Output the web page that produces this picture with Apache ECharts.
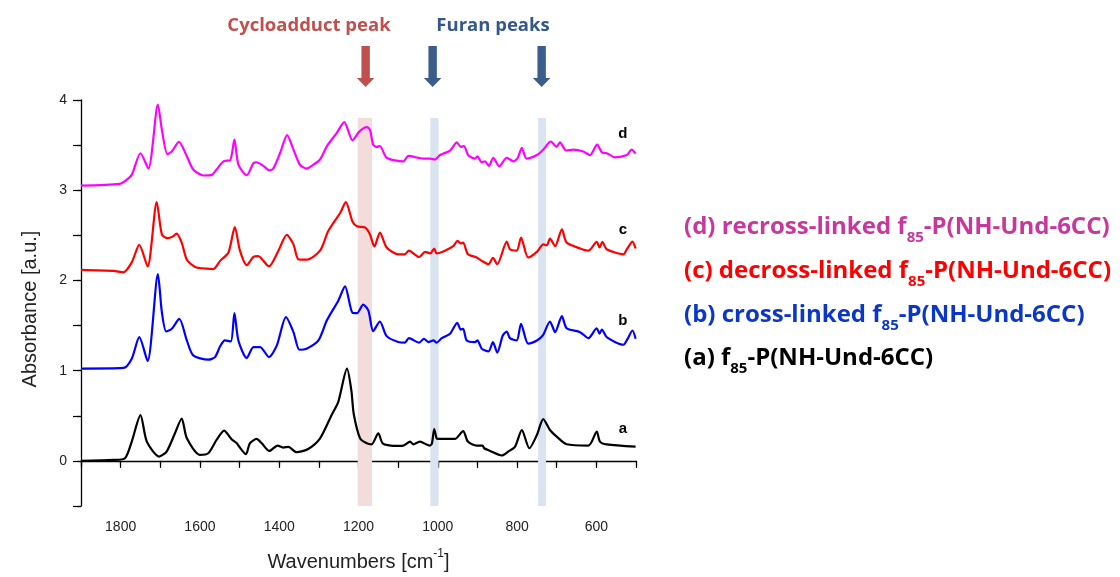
<!DOCTYPE html>
<html>
<head>
<meta charset="utf-8">
<title>FTIR spectra f85-P(NH-Und-6CC)</title>
<script src="https://cdn.jsdelivr.net/npm/echarts@6/dist/echarts.min.js"></script>
<style>
  html, body { margin: 0; padding: 0; background: #ffffff; }
  #chart { width: 1120px; height: 577px; }
</style>
</head>
<body>
<div id="chart"></div>
<script>
// Wavenumber ticks shown on the x axis
const xTickLabels = [1800, 1600, 1400, 1200, 1000, 800, 600];
const yTickLabels = [0, 1, 2, 3, 4];

// (d) recross-linked
const waveD = [1900,1802,1789,1772,1750,1730,1706,1696,1682,1671,1653,1633,1617,1591,1570,1558,1539,1524,1513,1503,1482,1465,1457,1440,1425,1415,1398,1380,1364,1348,1331,1318,1297,1280,1255,1236,1215,1198,1179,1171,1163,1154,1146,1129,1087,1074,1036,1019,1007,994,969,952,942,934,923,906,900,889,881,871,860,845,826,809,798,788,776,750,734,715,700,692,676,658,633,616,598,586,574,553,523,511,501];
const absD  = [3.05,3.07,3.10,3.17,3.41,3.24,3.95,3.67,3.40,3.43,3.535,3.376,3.23,3.163,3.17,3.23,3.325,3.33,3.56,3.284,3.166,3.30,3.31,3.27,3.22,3.24,3.41,3.61,3.45,3.284,3.24,3.27,3.34,3.486,3.634,3.755,3.552,3.65,3.70,3.67,3.505,3.48,3.49,3.36,3.32,3.38,3.35,3.35,3.34,3.39,3.44,3.53,3.48,3.49,3.387,3.35,3.376,3.31,3.32,3.27,3.36,3.265,3.36,3.32,3.36,3.47,3.35,3.39,3.45,3.54,3.48,3.53,3.44,3.45,3.43,3.39,3.505,3.42,3.41,3.365,3.39,3.45,3.405];

// (c) decross-linked
const waveC = [1900,1818,1793,1772,1753,1732,1709,1696,1682,1667,1659,1646,1633,1612,1583,1566,1549,1528,1512,1499,1482,1465,1453,1426,1402,1381,1364,1352,1331,1297,1276,1246,1232,1215,1204,1183,1171,1160,1146,1129,1100,1083,1073,1047,1032,1019,1009,1003,982,961,950,942,936,924,902,889,872,861,850,826,818,801,790,772,750,734,725,717,704,687,675,641,620,599,592,585,574,532,523,509,501];
const absC  = [2.118,2.107,2.09,2.20,2.394,2.155,2.868,2.51,2.468,2.49,2.52,2.42,2.23,2.15,2.13,2.126,2.217,2.31,2.59,2.33,2.17,2.26,2.27,2.155,2.33,2.505,2.40,2.236,2.23,2.33,2.55,2.75,2.868,2.65,2.60,2.585,2.51,2.376,2.53,2.365,2.29,2.29,2.33,2.26,2.317,2.30,2.354,2.30,2.33,2.38,2.44,2.41,2.42,2.29,2.255,2.217,2.18,2.25,2.18,2.43,2.346,2.33,2.475,2.255,2.317,2.40,2.39,2.464,2.38,2.567,2.42,2.354,2.33,2.427,2.365,2.427,2.346,2.29,2.346,2.43,2.354];

// (b) cross-linked
const waveB = [1900,1793,1772,1753,1732,1706,1696,1685,1671,1652,1633,1617,1579,1562,1549,1537,1522,1513,1503,1482,1465,1448,1426,1406,1383,1364,1349,1331,1301,1280,1251,1234,1215,1204,1188,1175,1163,1146,1129,1100,1083,1073,1047,1035,1024,1011,1003,990,969,951,942,936,927,906,900,889,872,861,850,836,826,818,801,790,772,750,735,717,704,687,675,641,620,599,592,586,574,532,522,509,501];
const absB  = [1.023,1.03,1.133,1.372,1.107,2.07,1.648,1.434,1.464,1.574,1.335,1.17,1.122,1.15,1.27,1.335,1.324,1.637,1.335,1.14,1.262,1.262,1.15,1.28,1.593,1.427,1.232,1.243,1.335,1.555,1.776,1.935,1.64,1.637,1.732,1.666,1.438,1.545,1.383,1.317,1.31,1.36,1.31,1.354,1.317,1.335,1.31,1.36,1.41,1.53,1.456,1.464,1.335,1.317,1.335,1.243,1.213,1.317,1.20,1.39,1.434,1.36,1.335,1.52,1.30,1.335,1.39,1.545,1.427,1.604,1.47,1.427,1.36,1.47,1.41,1.456,1.372,1.287,1.346,1.445,1.354];

// (a) f85-P(NH-Und-6CC)
const waveA = [1900,1818,1789,1772,1750,1734,1703,1684,1663,1646,1633,1600,1579,1558,1539,1520,1507,1503,1484,1474,1457,1444,1425,1404,1390,1377,1356,1327,1297,1268,1251,1229,1218,1212,1196,1179,1167,1150,1139,1112,1087,1070,1062,1045,1021,1015,1009,1003,999,957,936,924,902,887,883,868,839,822,805,788,769,750,734,717,700,675,620,599,591,574,501];
const absA  = [0.0,0.011,0.03,0.214,0.507,0.214,0.048,0.104,0.306,0.47,0.25,0.066,0.085,0.232,0.335,0.24,0.195,0.17,0.074,0.195,0.243,0.195,0.11,0.17,0.148,0.155,0.096,0.132,0.25,0.507,0.655,1.023,0.78,0.52,0.25,0.195,0.184,0.306,0.195,0.166,0.17,0.214,0.184,0.214,0.17,0.19,0.353,0.25,0.243,0.243,0.331,0.214,0.17,0.17,0.14,0.11,0.06,0.104,0.159,0.342,0.14,0.287,0.463,0.342,0.269,0.184,0.17,0.324,0.214,0.184,0.159];

// Highlighted bands [from, to] in cm-1
const cycloBand = [1202, 1166];
const furanBands = [[1019, 998], [747, 727]];
const bandTop = 3.8;

// Arrow positions in cm-1
const cycloArrow = 1182;
const furanArrows = [1013, 738];

// Curve tags placed near the right end
const tagWave = 533;
const tags = [['d', 3.625], ['c', 2.56], ['b', 1.555], ['a', 0.353]];

const legendLines = [
  { tag: '(d) recross-linked f', color: '#c8379c' },
  { tag: '(c) decross-linked f', color: '#ff0000' },
  { tag: '(b) cross-linked f', color: '#0b37c8' },
  { tag: '(a) f', color: '#000000' }
];

const zip = (w, a) => w.map((v, i) => [v, a[i]]);

const chart = echarts.init(document.getElementById('chart'), null, { renderer: 'canvas' });

const axisFont = 'Liberation Sans, Arial, sans-serif';
const noteFont = 'Open Sans, Lato, sans-serif';

function lineSeries(name, data, color, extra) {
  return Object.assign({
    name: name,
    type: 'line',
    data: data,
    smooth: 0.25,
    symbol: 'none',
    lineStyle: { color: color, width: 2.2 },
    z: 3
  }, extra || {});
}

const bandColorPink = '#f3dcdc';
const bandColorBlue = '#dae4f1';

const option = {
  animation: false,
  backgroundColor: '#ffffff',
  grid: { left: 81, right: 484, top: 100, bottom: 69, containLabel: false },
  xAxis: [{
    type: 'value',
    min: 500, max: 1900, interval: 100, inverse: true,
    axisLine: { show: true, lineStyle: { color: '#000', width: 1.3 } },
    axisTick: { show: true, inside: false, length: 4.5, lineStyle: { color: '#000', width: 1.2 } },
    axisLabel: {
      margin: 14, fontFamily: axisFont, fontSize: 14, color: '#222',
      formatter: v => (xTickLabels.indexOf(v) >= 0 ? String(v) : '')
    },
    splitLine: { show: false },
    name: '{t|Wavenumbers [cm}{s|-1}{t|]}',
    nameLocation: 'middle', nameGap: 42,
    nameTextStyle: {
      rich: {
        t: { fontFamily: axisFont, fontSize: 20, color: '#222', verticalAlign: 'bottom', lineHeight: 24 },
        s: { fontFamily: axisFont, fontSize: 12, color: '#222', verticalAlign: 'top', lineHeight: 24 }
      }
    }
  }, {
    // longer ticks at the labelled wavenumbers
    type: 'value',
    min: 500, max: 1900, interval: 100, inverse: true, position: 'bottom',
    axisLine: { show: false },
    axisTick: {
      show: true, length: 7, lineStyle: { color: '#000', width: 1.2 },
      interval: (i, v) => xTickLabels.indexOf(Number(v)) >= 0 || Number(v) === 1900 || Number(v) === 500
    },
    axisLabel: { show: false },
    splitLine: { show: false }
  }],
  yAxis: [{
    type: 'value',
    min: -0.5, max: 4, interval: 0.5,
    axisLine: { show: true, lineStyle: { color: '#000', width: 1.3 } },
    axisTick: {
      show: true, length: 8, lineStyle: { color: '#000', width: 1.2 },
      interval: (i, v) => yTickLabels.indexOf(Number(v)) >= 0
    },
    axisLabel: {
      margin: 14, fontFamily: axisFont, fontSize: 14, color: '#222',
      formatter: v => (yTickLabels.indexOf(v) >= 0 ? String(v) : '')
    },
    splitLine: { show: false }
  }, {
    // short ticks at the half units
    type: 'value',
    min: -0.5, max: 4, interval: 0.5, position: 'left',
    axisLine: { show: false },
    axisTick: { show: true, length: 4, lineStyle: { color: '#000', width: 1.2 } },
    axisLabel: { show: false },
    splitLine: { show: false }
  }],
  series: [
    lineSeries('bands', [], '#000', {
      z: 1,
      markArea: {
        silent: true,
        data: [
          [{ xAxis: cycloBand[0], yAxis: -0.5, itemStyle: { color: bandColorPink } }, { xAxis: cycloBand[1], yAxis: bandTop }],
          [{ xAxis: furanBands[0][0], yAxis: -0.5, itemStyle: { color: bandColorBlue } }, { xAxis: furanBands[0][1], yAxis: bandTop }],
          [{ xAxis: furanBands[1][0], yAxis: -0.5, itemStyle: { color: bandColorBlue } }, { xAxis: furanBands[1][1], yAxis: bandTop }]
        ]
      }
    }),
    lineSeries('a', zip(waveA, absA), '#000000'),
    lineSeries('b', zip(waveB, absB), '#0000ff'),
    lineSeries('c', zip(waveC, absC), '#ff0000'),
    lineSeries('d', zip(waveD, absD), '#ff00ff')
  ]
};

chart.setOption(option);

// Annotations laid out from axis coordinates
function px(w, a) { return chart.convertToPixel({ xAxisIndex: 0, yAxisIndex: 0 }, [w, a]); }

function arrow(w, color) {
  const cx = px(w, 0)[0];
  const top = 46, neck = 78, tip = 87, sh = 4.2, hw = 8.8;
  return {
    type: 'polygon',
    shape: { points: [[cx - sh, top], [cx + sh, top], [cx + sh, neck], [cx + hw, neck], [cx, tip], [cx - hw, neck], [cx - sh, neck]] },
    style: { fill: color },
    z: 10
  };
}

const graphics = [];

graphics.push({
  type: 'text', x: 309, y: 26,
  style: { text: 'Cycloadduct peak', font: 'bold 18.5px ' + noteFont, fill: '#c0504d', align: 'center', verticalAlign: 'middle' }
});
graphics.push({
  type: 'text', x: 493, y: 26,
  style: { text: 'Furan peaks', font: 'bold 18.5px ' + noteFont, fill: '#34588a', align: 'center', verticalAlign: 'middle' }
});
graphics.push(arrow(cycloArrow, '#c0504d'));
furanArrows.forEach(w => graphics.push(arrow(w, '#3a5d8c')));

tags.forEach(t => {
  const p = px(tagWave, t[1]);
  graphics.push({
    type: 'text', x: p[0], y: p[1],
    style: { text: t[0], font: 'bold 15px ' + axisFont, fill: '#000', align: 'center', verticalAlign: 'middle' }
  });
});

graphics.push({
  type: 'text', x: 30, y: 309, rotation: Math.PI / 2,
  style: { text: 'Absorbance [a.u.]', font: '20px ' + axisFont, fill: '#222', align: 'center', verticalAlign: 'middle' }
});

const legendY = [227, 271, 315, 358];
legendLines.forEach((l, i) => {
  graphics.push({
    type: 'text', x: 684, y: legendY[i],
    style: {
      text: '{m|' + l.tag + '}{s|85}{m|-P(NH-Und-6CC)}',
      align: 'left', verticalAlign: 'middle',
      rich: {
        m: { font: 'bold 24px ' + noteFont, fill: l.color, color: l.color, lineHeight: 32, verticalAlign: 'middle' },
        s: { font: 'bold 15px ' + noteFont, fill: l.color, color: l.color, lineHeight: 15, verticalAlign: 'bottom', padding: [0, 0, -2, 0] }
      }
    }
  });
});

chart.setOption({ graphic: graphics });
</script>
</body>
</html>
